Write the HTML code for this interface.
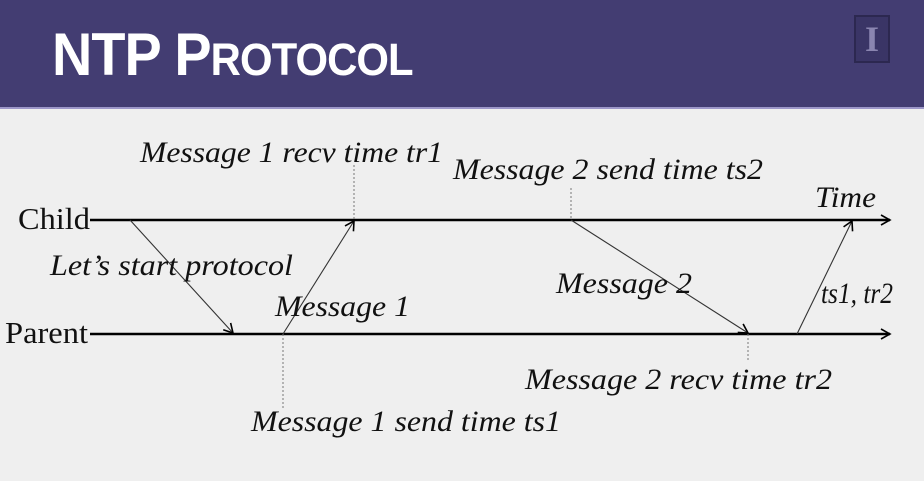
<!DOCTYPE html>
<html><head><style>
body{margin:0;width:924px;height:481px;overflow:hidden;background:#efefef;font-family:"Liberation Serif",serif}
.h{position:absolute;left:0;top:0;width:924px;height:107px;background:#433d72;border-bottom:2px solid #9d97c9}
.t{position:absolute;left:52px;top:20px;color:#fff;font:bold 60px "Liberation Sans",sans-serif;letter-spacing:-1px;transform:scaleX(0.93);transform-origin:left;white-space:nowrap}
.logo{position:absolute;left:854px;top:15px;width:32px;height:44px;border:2px solid #2c2850;background:#3a3566;color:#8a85b0;font:bold 36px "Liberation Serif",serif;text-align:center;line-height:44px}
</style></head><body>
<div class="h"><div class="t">NTP P<span style="font-size:45px">ROTOCOL</span></div><div class="logo">I</div></div>
<svg width="924" height="481" style="position:absolute;left:0;top:0">
<defs><marker id="a" markerWidth="12" markerHeight="12" refX="10" refY="6" orient="auto" markerUnits="userSpaceOnUse"><path d="M1,1 L10,6 L1,11" fill="none" stroke="#000" stroke-width="1.6"/></marker></defs>
<g stroke="#000" stroke-width="2.5"><line x1="90" y1="220" x2="890" y2="220" marker-end="url(#a)"/><line x1="90" y1="334" x2="890" y2="334" marker-end="url(#a)"/></g>
<g stroke="#333" stroke-width="1.1"><line x1="130" y1="220" x2="233" y2="333" marker-end="url(#a)"/><line x1="283" y1="334" x2="354" y2="221" marker-end="url(#a)"/><line x1="571" y1="220" x2="748" y2="333" marker-end="url(#a)"/><line x1="797" y1="334" x2="852" y2="221" marker-end="url(#a)"/></g>
<g stroke="#777" stroke-width="1" stroke-dasharray="2,2"><line x1="354" y1="165" x2="354" y2="220"/><line x1="571" y1="188" x2="571" y2="220"/><line x1="283" y1="334" x2="283" y2="410"/><line x1="748" y1="334" x2="748" y2="362"/></g>
<g font-family="Liberation Serif,serif" font-size="31" fill="#111"><text x="18" y="229" textLength="72" lengthAdjust="spacingAndGlyphs">Child</text><text x="5" y="343" textLength="83" lengthAdjust="spacingAndGlyphs">Parent</text></g>
<g font-family="Liberation Serif,serif" font-style="italic" font-size="30" fill="#111">
<text x="140" y="162" textLength="303" lengthAdjust="spacingAndGlyphs">Message 1 recv time tr1</text>
<text x="453" y="179" textLength="310" lengthAdjust="spacingAndGlyphs">Message 2 send time ts2</text>
<text x="815" y="207" textLength="61" lengthAdjust="spacingAndGlyphs">Time</text>
<text x="50" y="275" textLength="243" lengthAdjust="spacingAndGlyphs">Let’s start protocol</text>
<text x="275" y="316" textLength="135" lengthAdjust="spacingAndGlyphs">Message 1</text>
<text x="556" y="293" textLength="136" lengthAdjust="spacingAndGlyphs">Message 2</text>
<text x="821" y="303" textLength="72" lengthAdjust="spacingAndGlyphs">ts1, tr2</text>
<text x="525" y="389" textLength="307" lengthAdjust="spacingAndGlyphs">Message 2 recv time tr2</text>
<text x="251" y="431" textLength="310" lengthAdjust="spacingAndGlyphs">Message 1 send time ts1</text>
</g></svg>
</body></html>
